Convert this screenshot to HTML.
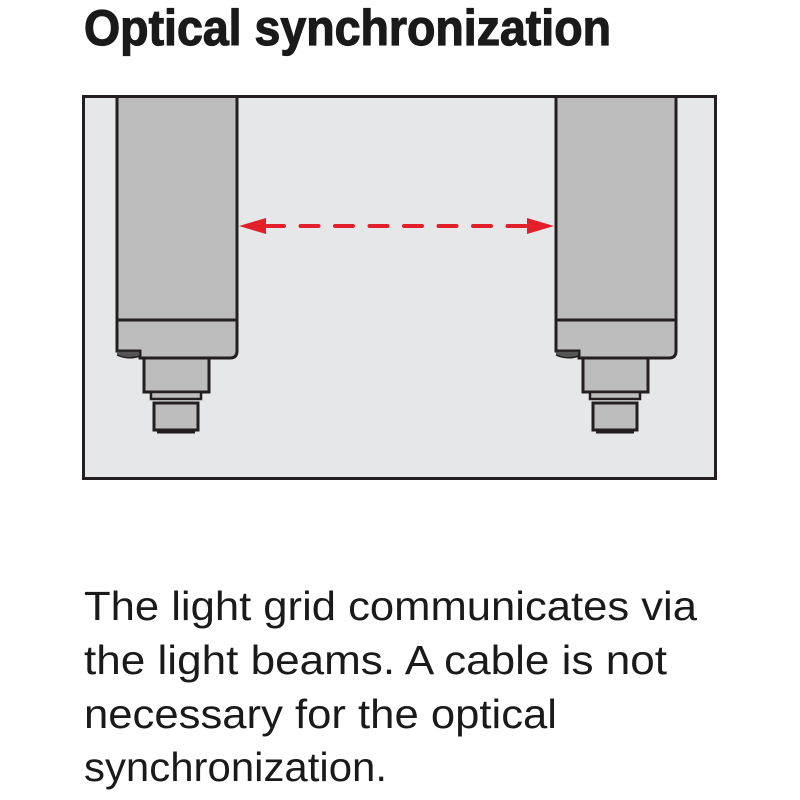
<!DOCTYPE html>
<html><head><meta charset="utf-8"><style>
html,body{margin:0;padding:0;background:#fff;width:800px;height:800px;overflow:hidden}
svg{display:block}
text{font-family:"Liberation Sans",sans-serif;fill:#1a1a1a}
</style></head><body>
<svg width="800" height="800" viewBox="0 0 800 800">
<text x="84" y="45" font-size="50" font-weight="bold" stroke="#1a1a1a" stroke-width="1.2" textLength="527" lengthAdjust="spacingAndGlyphs">Optical synchronization</text>
<rect x="83.5" y="96.5" width="632" height="382" fill="#e6e7e8" stroke="#231f20" stroke-width="3"/>
<defs>
<g id="s">
<path d="M117,98 V351 H140 V358 H230 Q237,358 237,351 V98" fill="#bdbdbd" stroke="#231f20" stroke-width="3"/>
<line x1="117" y1="320" x2="237" y2="320" stroke="#231f20" stroke-width="3"/>
<path d="M117,351 H140 V356 Q128,360 117,355" fill="#555" stroke="#231f20" stroke-width="1.5"/>
<rect x="144" y="358" width="65" height="34" fill="#bdbdbd" stroke="#231f20" stroke-width="3"/>
<rect x="151" y="392" width="50" height="7" fill="#bdbdbd" stroke="#231f20" stroke-width="2.5"/>
<rect x="154" y="403" width="44" height="27" fill="#bdbdbd" stroke="#231f20" stroke-width="3"/>
<line x1="157" y1="432" x2="195" y2="432" stroke="#231f20" stroke-width="3"/>
</g>
</defs>
<use href="#s"/>
<use href="#s" transform="translate(439,0)"/>
<line x1="266" y1="226" x2="528" y2="226" stroke="#e3202a" stroke-width="4" stroke-linecap="round" stroke-dasharray="18,16.5"/>
<polygon points="239,226 266,218 266,234" fill="#e3202a"/>
<polygon points="554,226 527,218 527,234" fill="#e3202a"/>
<text x="84" y="620" font-size="41" textLength="613" lengthAdjust="spacingAndGlyphs">The light grid communicates via</text>
<text x="84" y="674" font-size="41" textLength="583" lengthAdjust="spacingAndGlyphs">the light beams. A cable is not</text>
<text x="84" y="728" font-size="41" textLength="473" lengthAdjust="spacingAndGlyphs">necessary for the optical</text>
<text x="84" y="781" font-size="41" textLength="303" lengthAdjust="spacingAndGlyphs">synchronization.</text>
</svg>
</body></html>
